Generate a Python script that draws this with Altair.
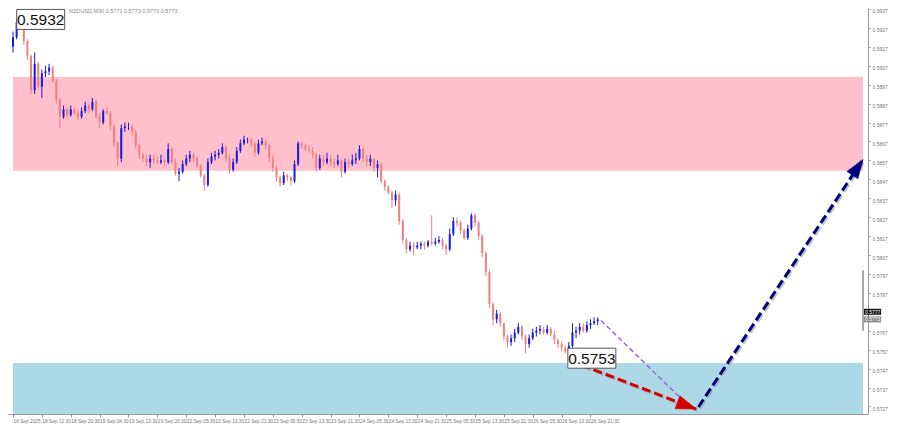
import altair as alt
import pandas as pd

# ---------------- data ----------------
first_open = 0.5917
closes = [0.5922, 0.5930, 0.5927, 0.5920, 0.5912, 0.5894, 0.5908, 0.5896, 0.5903, 0.5904,
          0.5906, 0.5899, 0.5889, 0.5880, 0.5884, 0.5881, 0.5884, 0.5882, 0.5880, 0.5883,
          0.5886, 0.5884, 0.5888, 0.5880, 0.5877, 0.5883, 0.5882, 0.5875, 0.5866, 0.5858,
          0.5874, 0.5875, 0.5875, 0.5872, 0.5865, 0.5860, 0.5858, 0.5856, 0.5858, 0.5857,
          0.5856, 0.5857, 0.5856, 0.5863, 0.5856, 0.5850, 0.5851, 0.5855, 0.5858, 0.5860,
          0.5858, 0.5854, 0.5849, 0.5844, 0.5856, 0.5859, 0.5860, 0.5861, 0.5864, 0.5858,
          0.5852, 0.5856, 0.5862, 0.5866, 0.5868, 0.5868, 0.5866, 0.5861, 0.5866, 0.5867,
          0.5865, 0.5858, 0.5853, 0.5848, 0.5845, 0.5849, 0.5848, 0.5846, 0.5855, 0.5866,
          0.5865, 0.5863, 0.5862, 0.5860, 0.5853, 0.5858, 0.5856, 0.5858, 0.5856, 0.5855,
          0.5857, 0.5851, 0.5856, 0.5855, 0.5857, 0.5858, 0.5863, 0.5858, 0.5856, 0.5858,
          0.5853, 0.5855, 0.5846, 0.5843, 0.5840, 0.5836, 0.5839, 0.5825, 0.5815, 0.5810,
          0.5812, 0.5811, 0.5812, 0.5813, 0.5812, 0.5814, 0.5813, 0.5814, 0.5815, 0.5812,
          0.5810, 0.5818, 0.5825, 0.5824, 0.5820, 0.5816, 0.5821, 0.5828, 0.5824, 0.5817,
          0.5808, 0.5798, 0.5781, 0.5773, 0.5776, 0.5771, 0.5764, 0.5761, 0.5763, 0.5766,
          0.5769, 0.5764, 0.5760, 0.5763, 0.5766, 0.5767, 0.5768, 0.5766, 0.5768, 0.5765,
          0.5762, 0.5760, 0.5758, 0.5756, 0.5759, 0.5766, 0.5767, 0.5769, 0.5767, 0.5770,
          0.5771, 0.5772, 0.5773]
highs = [0.5925, 0.5932, 0.5931, 0.5928, 0.5921, 0.5913, 0.5914, 0.5909, 0.5905, 0.5907,
         0.5908, 0.5907, 0.5900, 0.5890, 0.5886, 0.5885, 0.5886, 0.5885, 0.5884, 0.5885,
         0.5888, 0.5887, 0.5890, 0.5889, 0.5882, 0.5884, 0.5885, 0.5883, 0.5876, 0.5867,
         0.5876, 0.5877, 0.5877, 0.5876, 0.5873, 0.5866, 0.5861, 0.5860, 0.5860, 0.5860,
         0.5859, 0.5860, 0.5858, 0.5866, 0.5864, 0.5858, 0.5853, 0.5857, 0.5860, 0.5862,
         0.5861, 0.5859, 0.5855, 0.5850, 0.5858, 0.5861, 0.5862, 0.5863, 0.5866, 0.5865,
         0.5860, 0.5858, 0.5864, 0.5868, 0.5870, 0.5869, 0.5869, 0.5867, 0.5868, 0.5869,
         0.5868, 0.5866, 0.5860, 0.5854, 0.5849, 0.5851, 0.5850, 0.5849, 0.5857, 0.5867,
         0.5867, 0.5866, 0.5865, 0.5864, 0.5861, 0.5860, 0.5860, 0.5861, 0.5860, 0.5858,
         0.5860, 0.5858, 0.5858, 0.5858, 0.5860, 0.5861, 0.5865, 0.5864, 0.5860, 0.5860,
         0.5858, 0.5857, 0.5856, 0.5847, 0.5844, 0.5841, 0.5841, 0.5840, 0.5826, 0.5816,
         0.5814, 0.5814, 0.5814, 0.5814, 0.5814, 0.5815, 0.5828, 0.5816, 0.5817, 0.5816,
         0.5813, 0.5821, 0.5827, 0.5827, 0.5825, 0.5821, 0.5823, 0.5829, 0.5829, 0.5825,
         0.5818, 0.5809, 0.5799, 0.5782, 0.5778, 0.5777, 0.5771, 0.5765, 0.5765, 0.5768,
         0.5771, 0.5770, 0.5765, 0.5765, 0.5768, 0.5769, 0.5770, 0.5769, 0.5770, 0.5769,
         0.5767, 0.5763, 0.5761, 0.5759, 0.5761, 0.5771, 0.5769, 0.5771, 0.5771, 0.5772,
         0.5773, 0.5774, 0.5774]
lows = [0.5914, 0.5921, 0.5926, 0.5918, 0.5910, 0.5892, 0.5892, 0.5895, 0.5890, 0.5901,
        0.5902, 0.5898, 0.5887, 0.5874, 0.5879, 0.5879, 0.5880, 0.5881, 0.5878, 0.5879,
        0.5882, 0.5882, 0.5883, 0.5879, 0.5874, 0.5876, 0.5881, 0.5873, 0.5864, 0.5854,
        0.5856, 0.5872, 0.5873, 0.5870, 0.5863, 0.5858, 0.5856, 0.5854, 0.5853, 0.5855,
        0.5855, 0.5855, 0.5854, 0.5855, 0.5855, 0.5849, 0.5846, 0.5850, 0.5854, 0.5856,
        0.5856, 0.5853, 0.5848, 0.5841, 0.5843, 0.5855, 0.5857, 0.5858, 0.5860, 0.5856,
        0.5850, 0.5851, 0.5855, 0.5861, 0.5865, 0.5866, 0.5864, 0.5859, 0.5860, 0.5865,
        0.5863, 0.5856, 0.5851, 0.5846, 0.5843, 0.5844, 0.5846, 0.5844, 0.5845, 0.5854,
        0.5863, 0.5862, 0.5861, 0.5858, 0.5851, 0.5852, 0.5854, 0.5855, 0.5854, 0.5853,
        0.5854, 0.5848, 0.5850, 0.5853, 0.5854, 0.5855, 0.5857, 0.5856, 0.5854, 0.5854,
        0.5851, 0.5848, 0.5845, 0.5841, 0.5839, 0.5832, 0.5833, 0.5823, 0.5813, 0.5808,
        0.5809, 0.5807, 0.5810, 0.5810, 0.5810, 0.5811, 0.5812, 0.5812, 0.5813, 0.5810,
        0.5807, 0.5809, 0.5817, 0.5822, 0.5818, 0.5815, 0.5815, 0.5820, 0.5822, 0.5815,
        0.5806, 0.5796, 0.5779, 0.5770, 0.5771, 0.5769, 0.5762, 0.5758, 0.5759, 0.5761,
        0.5765, 0.5762, 0.5755, 0.5758, 0.5762, 0.5764, 0.5765, 0.5765, 0.5765, 0.5764,
        0.5760, 0.5758, 0.5756, 0.5755, 0.5753, 0.5758, 0.5763, 0.5765, 0.5766, 0.5766,
        0.5768, 0.5770, 0.5770]

time_labels = ["18 Sep 2025", "18 Sep 12:30", "18 Sep 20:30", "19 Sep 04:30", "19 Sep 12:30",
               "19 Sep 20:30", "22 Sep 05:30", "22 Sep 13:30", "22 Sep 21:30", "23 Sep 05:30",
               "23 Sep 13:30", "23 Sep 21:30", "24 Sep 05:30", "24 Sep 13:30", "24 Sep 21:30",
               "25 Sep 05:30", "25 Sep 13:30", "25 Sep 21:30", "26 Sep 05:30", "26 Sep 13:30",
               "26 Sep 21:30"]
label_step_hours = 8
# 0.5777 sits under the current-price tag in the reference, so it has no visible tick label
price_ticks = [0.5727, 0.5737, 0.5747, 0.5757, 0.5767, 0.5787, 0.5797, 0.5807,
               0.5817, 0.5827, 0.5837, 0.5847, 0.5857, 0.5867, 0.5877, 0.5887, 0.5897,
               0.5907, 0.5917, 0.5927, 0.5937]

pink_zone = [0.58515, 0.59010]
blue_zone = [0.5723, 0.57500]

purple_h = [162.9, 185.9]
purple_p = [0.57724, 0.57297]
red_h = [154.1, 189.3]
red_p = [0.57514, 0.57256]
navy_h = [189.9, 235.5]
navy_p = [0.57267, 0.58575]

high_label = (1.3, 0.5932, "0.5932")
low_label = (154.0, 0.5753, "0.5753")
last_prices = [0.5777, 0.5773]
header_text = "NZDUSD,M30  0.5771 0.5773 0.5770 0.5773"

X_MAX = 235.5
Y_MIN, Y_MAX = 0.5723, 0.59375
W, H = 860, 406

# ---------------- tables ----------------
opens = [first_open] + closes[:-1]
hrs = list(range(len(closes)))
df = pd.DataFrame({"h": hrs, "open": opens, "close": closes, "high": highs, "low": lows})
df["high"] = df[["high", "open", "close"]].max(axis=1)
df["low"] = df[["low", "open", "close"]].min(axis=1)
df["dir"] = ["up" if c >= o else "down" for o, c in zip(opens, closes)]

xs = alt.Scale(domain=[0, X_MAX], nice=False, zero=False)
ys = alt.Scale(domain=[Y_MIN, Y_MAX], nice=False, zero=False)
col_scale = alt.Scale(domain=["up", "down"], range=["#1a1ae8", "#f08080"])

label_arr = "[" + ",".join("'" + t + "'" for t in time_labels) + "]"
x_ticks = [i * label_step_hours for i in range(len(time_labels))]

x_axis = alt.Axis(values=x_ticks, labelExpr=label_arr + "[round(datum.value/8)]",
                  labelAlign="left", labelFontSize=4.8, labelColor="#777",
                  labelFont="Liberation Sans", tickSize=3, tickColor="#999",
                  domainColor="#999", labelPadding=1, labelOverlap=False,
                  labelFlush=False, grid=False, labelBaseline="top", title=None)
y_axis = alt.Axis(orient="right", values=price_ticks, format=".4f",
                  labelFontSize=5, labelColor="#777", labelFont="Liberation Sans",
                  tickSize=2, tickColor="#999", domainColor="#999",
                  labelPadding=2, grid=False, labelOverlap=False, title=None,
                  labelBaseline="top", labelBound=False)


def X(field):
    return alt.X(field, scale=xs, axis=x_axis)


def Y(field):
    return alt.Y(field, scale=ys, axis=y_axis)


zones = pd.DataFrame({
    "x": [0, 0], "x2": [X_MAX, X_MAX],
    "y": [pink_zone[0], blue_zone[0]], "y2": [pink_zone[1], blue_zone[1]],
    "c": ["pink", "blue"],
})
zone_layer = alt.Chart(zones).mark_rect().encode(
    x=X("x:Q"), x2="x2:Q", y=Y("y:Q"), y2="y2:Q",
    color=alt.Color("c:N", scale=alt.Scale(domain=["pink", "blue"],
                                            range=["#ffc0cb", "#add8e6"]), legend=None),
)

wicks = alt.Chart(df).mark_rule(strokeWidth=1).encode(
    x=X("h:Q"), y=Y("low:Q"), y2="high:Q",
    color=alt.Color("dir:N", scale=col_scale, legend=None),
)
bodies = alt.Chart(df).mark_bar(size=2).encode(
    x=X("h:Q"), y=Y("open:Q"), y2="close:Q",
    color=alt.Color("dir:N", scale=col_scale, legend=None),
)


def wave(hh, pp):
    return pd.DataFrame({"h": hh, "p": pp})


def wave_line(d, color, width, dash, **kw):
    return alt.Chart(d).mark_line(color=color, strokeWidth=width, strokeDash=dash, **kw).encode(
        x=X("h:Q"), y=Y("p:Q"))


purple_df = wave(purple_h, purple_p)
red_df = wave(red_h, red_p)
navy_df = wave(navy_h, navy_p)

purple_line = wave_line(purple_df, "#9966dd", 1.5, [5, 3])
red_shadow = wave_line(red_df, "#999999", 3, [9, 4], xOffset=1.5, yOffset=1.5, opacity=0.6)
red_line = wave_line(red_df, "#d40000", 3, [9, 4])
navy_shadow = wave_line(navy_df, "#999999", 3, [9, 4], xOffset=1.5, yOffset=1.5, opacity=0.6)
navy_line = wave_line(navy_df, "#00007f", 3, [9, 4])

head_path = "M0,0L-4,-1.4L-4,1.4Z"
red_head = alt.Chart(red_df.iloc[[1]]).mark_point(
    shape=head_path, size=100, filled=True, fill="#d40000", stroke="#d40000",
    strokeWidth=0.5, opacity=1, angle=20).encode(x=X("h:Q"), y=Y("p:Q"))
navy_head = alt.Chart(navy_df.iloc[[1]]).mark_point(
    shape=head_path, size=90, filled=True, fill="#00007f", stroke="#00007f",
    strokeWidth=0.5, opacity=1, angle=304).encode(x=X("h:Q"), y=Y("p:Q"))

labels_df = pd.DataFrame({
    "h": [high_label[0], low_label[0]],
    "p": [high_label[1], low_label[1]],
    "t": [high_label[2], low_label[2]],
})
box_path = "M-2.4,-1L2.4,-1L2.4,1L-2.4,1Z"

header = alt.Chart(pd.DataFrame({"h": [0], "p": [Y_MAX], "t": [header_text]})).mark_text(
    align="left", baseline="top", fontSize=5.5, color="#888", font="Liberation Sans",
    dx=56, dy=1).encode(x=X("h:Q"), y=Y("p:Q"), text="t:N")

boxes = alt.Chart(labels_df).mark_point(
    shape=box_path, size=400, filled=True, fill="white", stroke="#555",
    strokeWidth=1, opacity=1, xOffset=23, yOffset=1).encode(x=X("h:Q"), y=Y("p:Q"))
box_text = alt.Chart(labels_df).mark_text(
    fontSize=15.5, font="Liberation Sans", color="#111", align="center",
    baseline="middle", dx=23, dy=1.5).encode(x=X("h:Q"), y=Y("p:Q"), text="t:N")

# right-axis current price tags and scroll marker
axis_marker = alt.Chart(pd.DataFrame({"h": [X_MAX], "p": [0.5767], "p2": [0.5799]})).mark_rule(
    color="#aaaaaa", strokeWidth=2).encode(x=X("h:Q"), y=Y("p:Q"), y2="p2:Q")
tags_df = pd.DataFrame({"h": [X_MAX, X_MAX], "p": last_prices,
                        "t": [f"{v:.4f}" for v in last_prices], "k": ["bid", "ask"]})
tag_path = "M0,-1L5.7,-1L5.7,1L0,1Z"
tag_boxes = alt.Chart(tags_df).mark_point(
    shape=tag_path, size=36, filled=True, opacity=1, strokeWidth=0, xOffset=1).encode(
    x=X("h:Q"), y=Y("p:Q"),
    color=alt.Color("k:N", scale=alt.Scale(domain=["bid", "ask"], range=["#111", "#888"]),
                    legend=None))
tag_text = alt.Chart(tags_df).mark_text(
    align="left", baseline="middle", fontSize=5, color="white", font="Liberation Sans",
    dx=2).encode(x=X("h:Q"), y=Y("p:Q"), text="t:N")

chart = alt.layer(
    zone_layer, header, wicks, bodies, purple_line, red_shadow, navy_shadow,
    red_line, navy_line, red_head, navy_head, boxes, box_text,
    axis_marker, tag_boxes, tag_text,
).resolve_scale(color="independent").properties(
    width=W, height=H, padding={"left": 0, "top": 0, "right": 22, "bottom": 14},
    autosize=alt.AutoSizeParams(type="none"),
    background="white",
).configure_view(stroke=None).configure_axis(labelOverlap=False)

chart.save("out.html", embed_options={"renderer": "svg", "actions": False})
